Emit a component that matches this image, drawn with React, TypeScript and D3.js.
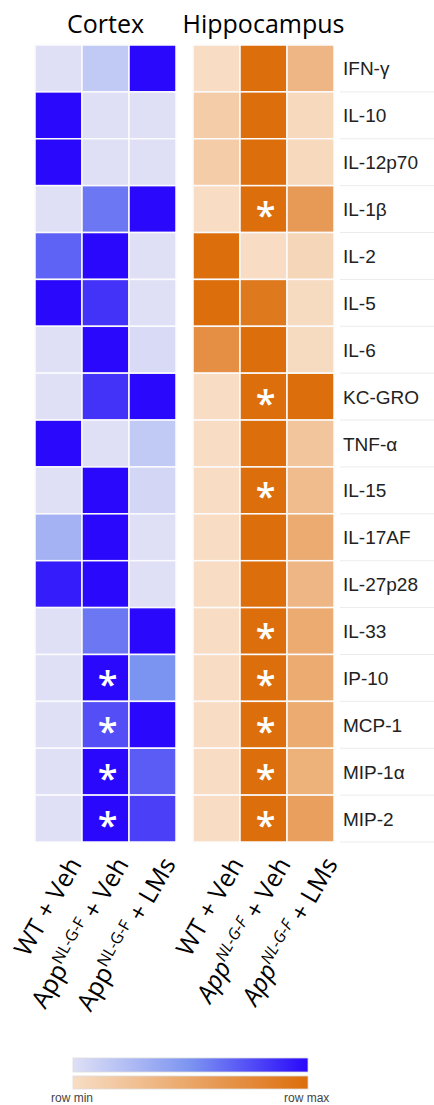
import React from 'react';
import * as d3 from 'd3';

const cytokines = ['IFN-γ', 'IL-10', 'IL-12p70', 'IL-1β', 'IL-2', 'IL-5', 'IL-6', 'KC-GRO', 'TNF-α',
  'IL-15', 'IL-17AF', 'IL-27p28', 'IL-33', 'IP-10', 'MCP-1', 'MIP-1α', 'MIP-2'];

const groups = ['WT', 'App', 'AppLMs'];
const groupPrefix = ['WT', 'App', 'App'];
const groupSuffix = [' + Veh', ' + Veh', ' + LMs'];

// row-normalised values (0 = row min, 1 = row max), order follows groups
const cortexWT = [0, 1, 1, 0, 0.68, 1, 0, 0, 1, 0, 0.3, 0.93, 0, 0, 0, 0, 0];
const cortexApp = [0.15, 0, 0, 0.6, 1, 0.85, 1, 0.85, 0, 1, 1, 1, 0.6, 1, 0.75, 1, 1];
const cortexLMs = [1, 0, 0, 1, 0, 0, 0.03, 1, 0.15, 0.06, 0, 0, 1, 0.5, 1, 0.7, 0.8];

const hippoWT = [0, 0.15, 0.15, 0, 1, 1, 0.7, 0, 0, 0, 0, 0, 0, 0, 0, 0, 0];
const hippoApp = [1, 1, 1, 1, 0, 0.9, 1, 1, 1, 1, 1, 1, 1, 1, 1, 1, 1];
const hippoLMs = [0.35, 0.04, 0.04, 0.6, 0.06, 0.02, 0.02, 1, 0.22, 0.3, 0.45, 0.35, 0.45, 0.45, 0.45, 0.4, 0.55];

// significance marks (App + Veh column)
const cortexStars = ['IP-10', 'MCP-1', 'MIP-1α', 'MIP-2'];
const hippoStars = ['IL-1β', 'KC-GRO', 'IL-15', 'IL-33', 'IP-10', 'MCP-1', 'MIP-1α', 'MIP-2'];

const W = 434, H = 1105;
const top = 45, bottom = 842;

const blue = d3.scaleLinear<string>().domain([0, 0.5, 1]).range(['#dfe0f6', '#7c94f1', '#2a08fb']);
const orange = d3.scaleLinear<string>().domain([0, 1]).range(['#f8ddc4', '#dc6e0c']);

const y = d3.scaleBand().domain(cytokines).range([top, bottom]);

function Panel({ x0, x1, cols, color, stars, title, italic, shift }) {
  const x = d3.scaleBand().domain(groups).range([x0, x1]);
  const cells = [];
  cols.forEach((vals, gi) => {
    vals.forEach((v, ri) => {
      cells.push({ g: groups[gi], c: cytokines[ri], v });
    });
  });
  return (
    <g>
      <text x={(x0 + x1) / 2} y={33} textAnchor="middle" fontFamily="'Open Sans'" fontSize={25}>{title}</text>
      {cells.map((d, i) => (
        <rect key={i} x={x(d.g)} y={y(d.c)} width={x.bandwidth()} height={y.bandwidth()}
          fill={color(d.v)} stroke="#fbfbfd" strokeWidth={1.5} />
      ))}
      {stars.map(c => (
        <text key={c} x={x('App') + x.bandwidth() / 2 + 2} y={y(c) + y.bandwidth() / 2 + 19}
          textAnchor="middle" fill="#fff" fontFamily="'Open Sans'" fontWeight="600" fontSize={36}>*</text>
      ))}
      {groups.map((g, gi) => (
        <text key={g} transform={`translate(${x(g) + x.bandwidth() / 2 + shift},${864}) rotate(-60)`}
          textAnchor="end" fontFamily="'Open Sans'" fontSize={25}>
          <tspan fontStyle={gi > 0 && italic ? 'italic' : 'normal'}>{groupPrefix[gi]}</tspan>
          {gi > 0 && <tspan fontSize={16} dy={-9} fontStyle={italic ? 'italic' : 'normal'}>NL-G-F</tspan>}
          <tspan dy={gi > 0 ? 9 : 0}>{groupSuffix[gi]}</tspan>
        </text>
      ))}
    </g>
  );
}

export default function App() {
  const legendX = d3.scaleLinear().domain([0, 1]).range([73, 308]);
  const stops = d3.range(0, 1.01, 0.1);
  return (
    <svg width={W} height={H} style={{ position: 'absolute', left: 0, top: 0, background: '#fff' }}>
      <defs>
        <linearGradient id="gBlue">
          {stops.map(s => <stop key={s} offset={s} stopColor={blue(s)} />)}
        </linearGradient>
        <linearGradient id="gOrange">
          {stops.map(s => <stop key={s} offset={s} stopColor={orange(s)} />)}
        </linearGradient>
      </defs>
      <Panel x0={35} x1={176} cols={[cortexWT, cortexApp, cortexLMs]} color={blue}
        stars={cortexStars} title="Cortex" italic={false} shift={24} />
      <Panel x0={193} x1={334} cols={[hippoWT, hippoApp, hippoLMs]} color={orange}
        stars={hippoStars} title="Hippocampus" italic={true} shift={28} />
      {cytokines.map((c, i) => (
        <g key={c}>
          <line x1={340} x2={W} y1={y(c) + y.bandwidth()} y2={y(c) + y.bandwidth()} stroke="#ececec" />
          <text x={343} y={y(c) + y.bandwidth() / 2 + 7} fontFamily="'Liberation Sans', Arial" fontSize={19} fill="#222">{c}</text>
        </g>
      ))}
      <rect x={legendX(0)} y={1058} width={legendX(1) - legendX(0)} height={14} fill="url(#gBlue)" stroke="#ddd" strokeWidth={0.8} />
      <rect x={legendX(0)} y={1076} width={legendX(1) - legendX(0)} height={13} fill="url(#gOrange)" stroke="#ddd" strokeWidth={0.8} />
      <text x={51} y={1102} fontFamily="'Liberation Sans', Arial" fontSize={12} fill="#444">row min</text>
      <text x={284} y={1102} fontFamily="'Liberation Sans', Arial" fontSize={12} fill="#444">row max</text>
    </svg>
  );
}
